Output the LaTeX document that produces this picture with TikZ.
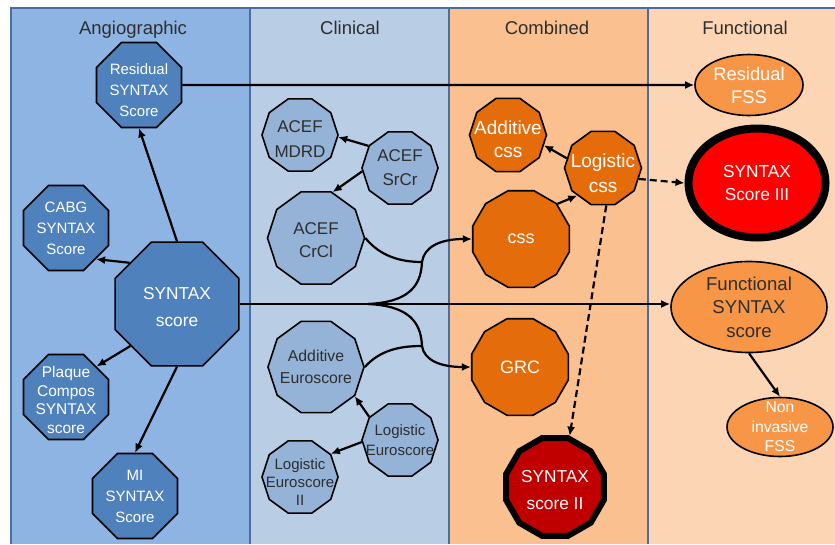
\documentclass[tikz,border=0pt]{standalone}
\usepackage{fontspec}
\setmainfont{Liberation Sans}
\usetikzlibrary{shapes.geometric,arrows.meta}
\definecolor{angcol}{HTML}{8EB4E3}
\definecolor{clincol}{HTML}{B9CDE5}
\definecolor{combcol}{HTML}{FAC090}
\definecolor{funccol}{HTML}{FCD5B5}
\definecolor{angfill}{HTML}{4F81BD}
\definecolor{clinfill}{HTML}{95B3D7}
\definecolor{orfill}{HTML}{E46C0A}
\definecolor{funcfill}{HTML}{F79646}
\definecolor{redA}{HTML}{FF0000}
\definecolor{redB}{HTML}{C00000}
\definecolor{colline}{HTML}{4A6E9E}
\definecolor{txtgray}{HTML}{2E2E2E}
\newcommand{\topstrut}[1]{\rule{0pt}{#1}}
\begin{document}
\begin{tikzpicture}[x=1pt,y=-1pt,
  hdr/.style={anchor=base,text=txtgray,font=\fontsize{18.5}{22}\selectfont},
  nodebase/.style={draw=black,line width=1.6pt,inner sep=-10pt,align=center},
  angst/.style={nodebase,regular polygon,regular polygon sides=8,fill=angfill,text=white,
     minimum size=92pt,font=\fontsize{15}{21}\selectfont},
  clinst/.style={nodebase,regular polygon,regular polygon sides=10,fill=clinfill,text=txtgray,
     minimum size=76pt,font=\fontsize{17}{24}\selectfont},
  orst/.style={nodebase,regular polygon,regular polygon sides=10,fill=orfill,text=white,
     minimum size=77pt,font=\fontsize{19}{23.5}\selectfont},
  orbig/.style={nodebase,regular polygon,regular polygon sides=12,fill=orfill,text=white,
     minimum size=100pt,font=\fontsize{18}{23}\selectfont},
  funcst/.style={nodebase,ellipse,fill=funcfill,text=white},
  conn/.style={line width=2.2pt,-{Latex[length=9pt,width=8pt]}},
  plainconn/.style={line width=2.2pt},
  dconn/.style={conn,dash pattern=on 7pt off 4pt}
]
\useasboundingbox (0,0) rectangle (835,544);
\fill[white] (0,0) rectangle (835,544);
% columns
\fill[angcol] (11,8) rectangle (250,544);
\fill[clincol] (250,8) rectangle (449,544);
\fill[combcol] (449,8) rectangle (648,544);
\fill[funccol] (648,8) rectangle (835,544);
\draw[colline,line width=1.5pt] (11,544) -- (11,8) -- (835,8);
\draw[colline,line width=1.5pt] (250,8) -- (250,544);
\draw[colline,line width=1.5pt] (449,8) -- (449,544);
\draw[colline,line width=1.5pt] (648,8) -- (648,544);
% headers
\node[hdr] (hang) at (133,34) {Angiographic};
\node[hdr] (hclin) at (350,34) {Clinical};
\node[hdr] (hcomb) at (547,34) {Combined};
\node[hdr] (hfunc) at (745,34) {Functional};
% angiographic
\node[angst] (res) at (139,85) {\topstrut{21pt}Residual\\SYNTAX\\Score};
\node[angst] (cabg) at (66,228) {CABG\\SYNTAX\\Score};
\node[angst,minimum size=134pt,font=\fontsize{17.3}{27}\selectfont] (syn) at (177,304) {\topstrut{18.6pt}SYNTAX\\score};
\node[angst,font=\fontsize{15.5}{18.7}\selectfont] (plq) at (66,397) {\topstrut{17.3pt}Plaque\\Compos\\SYNTAX\\score};
\node[angst] (mi) at (135,496) {MI\\SYNTAX\\Score};
% clinical
\node[clinst,font=\fontsize{17}{25}\selectfont] (mdrd) at (300,135) {\topstrut{20.4pt}ACEF\\MDRD};
\node[clinst] (srcr) at (400,168) {ACEF\\SrCr};
\node[clinst,minimum size=97pt,font=\fontsize{17}{23.5}\selectfont] (crcl) at (316,238) {\topstrut{16.4pt}ACEF\\CrCl};
\node[clinst,minimum size=96pt,font=\fontsize{15.8}{21.5}\selectfont] (addeu) at (316,367) {Additive\\Euroscore};
\node[clinst,font=\fontsize{15}{20}\selectfont] (logeu) at (400,440) {Logistic\\Euroscore};
\node[clinst,font=\fontsize{15}{18}\selectfont] (le2) at (300,477) {\topstrut{21pt}Logistic\\Euroscore\\II};
% combined
\node[orst] (addcss) at (508,135) {\topstrut{21.9pt}Additive\\css};
\node[orst,font=\fontsize{19}{25}\selectfont] (logcss) at (603,168) {\topstrut{23.9pt}Logistic\\css};
\node[orbig] (css) at (521,239) {css};
\node[orbig] (grc) at (520,367) {GRC};
\node[orbig,fill=redB,line width=6pt,minimum size=101pt,font=\fontsize{17.3}{27}\selectfont] (s2) at (555,487) {\topstrut{18.6pt}SYNTAX\\score II};
% functional
\node[funcst,minimum width=108pt,minimum height=61pt,font=\fontsize{18.3}{23}\selectfont] (rfss) at (749,85) {Residual\\FSS};
\node[funcst,fill=redA,line width=8pt,minimum width=137pt,minimum height=109pt,font=\fontsize{17.3}{23}\selectfont] (s3) at (757,183) {SYNTAX\\Score III};
\node[funcst,text=txtgray,minimum width=156pt,minimum height=91pt,font=\fontsize{18.6}{23.5}\selectfont] (fsyn) at (749,307) {Functional\\SYNTAX\\score};
\node[funcst,minimum width=106pt,minimum height=59pt,font=\fontsize{15.7}{19.5}\selectfont] (ninv) at (780,427) {Non\\invasive\\FSS};
% junctions
\coordinate (jm) at (368,304);
\coordinate (ju) at (422,262);
\coordinate (jl) at (422,346);
% connectors
\draw[conn] (syn.north) -- (res.south);
\draw[conn] (syn.139) -- (cabg.-46);
\draw[conn] (syn.222) -- (plq.45);
\draw[conn] (syn.south) -- (mi.north);
\draw[conn] (res.east) -- (rfss.west);
\draw[conn] (syn.east) -- (syn.east -| fsyn.west);
\draw[conn] (srcr.145) -- (mdrd.-3);
\draw[conn] (srcr.185) -- (crcl.70);
\draw[conn] (logeu.143) -- (addeu.-37);
\draw[conn] (logeu.183) -- (le2.37);
\draw[conn] (logcss.165) -- (addcss.-16);
\draw[conn] (css.44) -- (logcss.227);
\draw[dconn] (logcss.-17) -- (s3.west);
\draw[dconn] (logcss.-85) -- (s2.74);
\draw[conn] (fsyn.south) -- (ninv.north);
\draw[plainconn] (crcl.east) .. controls (380,256) and (400,262) .. (ju);
\draw[conn] (jm) .. controls (410,302) and (421,285) .. (ju) .. controls (424,247) and (440,239) .. (css.west);
\draw[plainconn] (addeu.east) .. controls (380,350) and (400,346) .. (jl);
\draw[conn] (jm) .. controls (410,306) and (421,323) .. (jl) .. controls (424,360) and (440,367) .. (grc.west);
\end{tikzpicture}
\end{document}
